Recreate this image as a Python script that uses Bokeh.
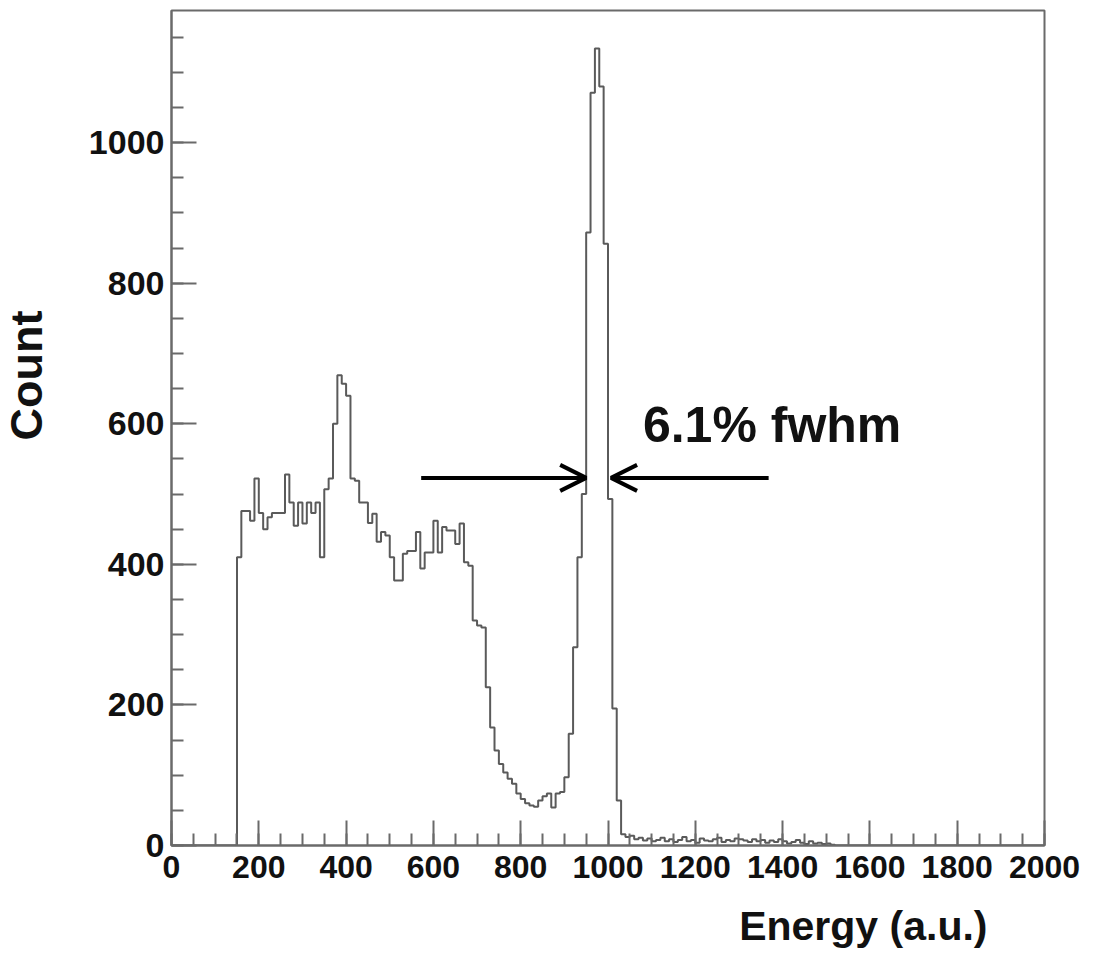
import numpy as np
from bokeh.plotting import figure
from bokeh.models import Range1d, FixedTicker, Label, Arrow, OpenHead, Title
from bokeh.embed import file_html
from bokeh.resources import INLINE

# ---- data ----
bin_start = 150
bin_width = 10
counts = [
    410, 476, 476, 462, 522, 473, 450, 467, 473, 473,   # 150-240
    473, 528, 488, 455, 488, 458, 488, 473, 488, 410,   # 250-340
    507, 522, 600, 669, 657, 640, 522, 519, 488, 488,   # 350-440
    459, 472, 432, 446, 441, 410, 377, 377, 415, 419,   # 450-540
    419, 446, 394, 417, 417, 462, 417, 453, 448, 448,   # 550-640
    429, 458, 403, 398, 320, 313, 310, 225, 168, 135,   # 650-740
    116, 104, 95, 88, 74, 66, 60, 57, 55, 64,           # 750-840
    70, 74, 54, 74, 76, 97, 159, 282, 410, 500,         # 850-940
    872, 1071, 1134, 1080, 856, 493, 195, 64, 16, 12,   # 950-1040
    14, 9, 11, 7, 10, 6, 8, 11, 6, 9,                   # 1050-1140
    5, 8, 12, 6, 8, 4, 10, 7, 6, 9,                     # 1150-1240
    11, 5, 8, 6, 10, 9, 7, 5, 9, 6,                     # 1250-1340
    8, 4, 7, 5, 9, 6, 3, 5, 8, 4,                       # 1350-1440
    2, 6, 3, 4, 2, 3, 1,                                # 1450-1510
]
x_major = [0, 200, 400, 600, 800, 1000, 1200, 1400, 1600, 1800, 2000]
x_minor = list(range(0, 2001, 50))
y_major = [0, 200, 400, 600, 800, 1000]
y_minor = list(range(0, 1188, 50))
x_title = "Energy (a.u.)"
y_title = "Count"
note = "6.1% fwhm"
fwhm_lo, fwhm_hi, fwhm_level = 950, 1007, 523

# ---- step outline built from the bins ----
edges = [bin_start + i * bin_width for i in range(len(counts) + 1)]
xs = [0] + edges + [2000]
ys = [0] + counts + [0, 0]

FONT = "Liberation Sans"
GRAY = "#6a6a6a"

p = figure(width=1087, height=954, output_backend="svg", toolbar_location=None,
           x_range=Range1d(0, 2000), y_range=Range1d(0, 1188),
           min_border_left=170, min_border_right=43, min_border_top=10,
           min_border_bottom=109)
p.background_fill_color = "white"
p.border_fill_color = "white"
p.outline_line_color = GRAY
p.outline_line_width = 2
p.xgrid.visible = False
p.ygrid.visible = False

p.step(xs, ys, mode="after", line_color="#5a5a5a", line_width=2)

for ax, maj, mnr, fs, so, gap in ((p.xaxis[0], x_major, x_minor, "32px", 10, 18),
                                  (p.yaxis[0], y_major, y_minor, "34px", 7, 28)):
    ax.ticker = FixedTicker(ticks=maj, minor_ticks=mnr)
    ax.major_tick_in = 25
    ax.major_tick_out = 0
    ax.minor_tick_in = 12
    ax.minor_tick_out = 0
    ax.major_tick_line_color = GRAY
    ax.minor_tick_line_color = GRAY
    ax.major_tick_line_width = 2
    ax.minor_tick_line_width = 2
    ax.axis_line_color = GRAY
    ax.axis_line_width = 2
    ax.major_label_text_font = FONT
    ax.major_label_text_font_style = "bold"
    ax.major_label_text_font_size = fs
    ax.major_label_text_color = "#111111"
    ax.major_label_standoff = so
    # blank spacer label: only reserves room between tick labels and the title
    ax.axis_label = " "
    ax.axis_label_text_font_size = "1px"
    ax.axis_label_text_color = "white"
    ax.axis_label_standoff = gap

p.add_layout(Title(text=x_title, align="right", offset=57, standoff=0,
                   vertical_align="top",
                   text_font=FONT, text_font_style="bold", text_font_size="41px",
                   text_color="#111111"), "below")
p.add_layout(Title(text=y_title, align="right", offset=300, standoff=0,
                   vertical_align="top",
                   text_font=FONT, text_font_style="bold", text_font_size="45px",
                   text_color="#111111"), "left")

p.add_layout(Label(x=1080, y=598, text=note, text_font=FONT, text_font_style="bold",
                   text_font_size="50px", text_color="#111111", text_align="left",
                   text_baseline="alphabetic"))

p.add_layout(Arrow(x_start=572, y_start=fwhm_level, x_end=fwhm_lo, y_end=fwhm_level,
                   line_width=4, line_color="black",
                   end=OpenHead(size=26, line_width=4, line_color="black")))
p.add_layout(Arrow(x_start=1368, y_start=fwhm_level, x_end=fwhm_hi, y_end=fwhm_level,
                   line_width=4, line_color="black",
                   end=OpenHead(size=26, line_width=4, line_color="black")))

open("out.html", "w").write(file_html(p, INLINE))
